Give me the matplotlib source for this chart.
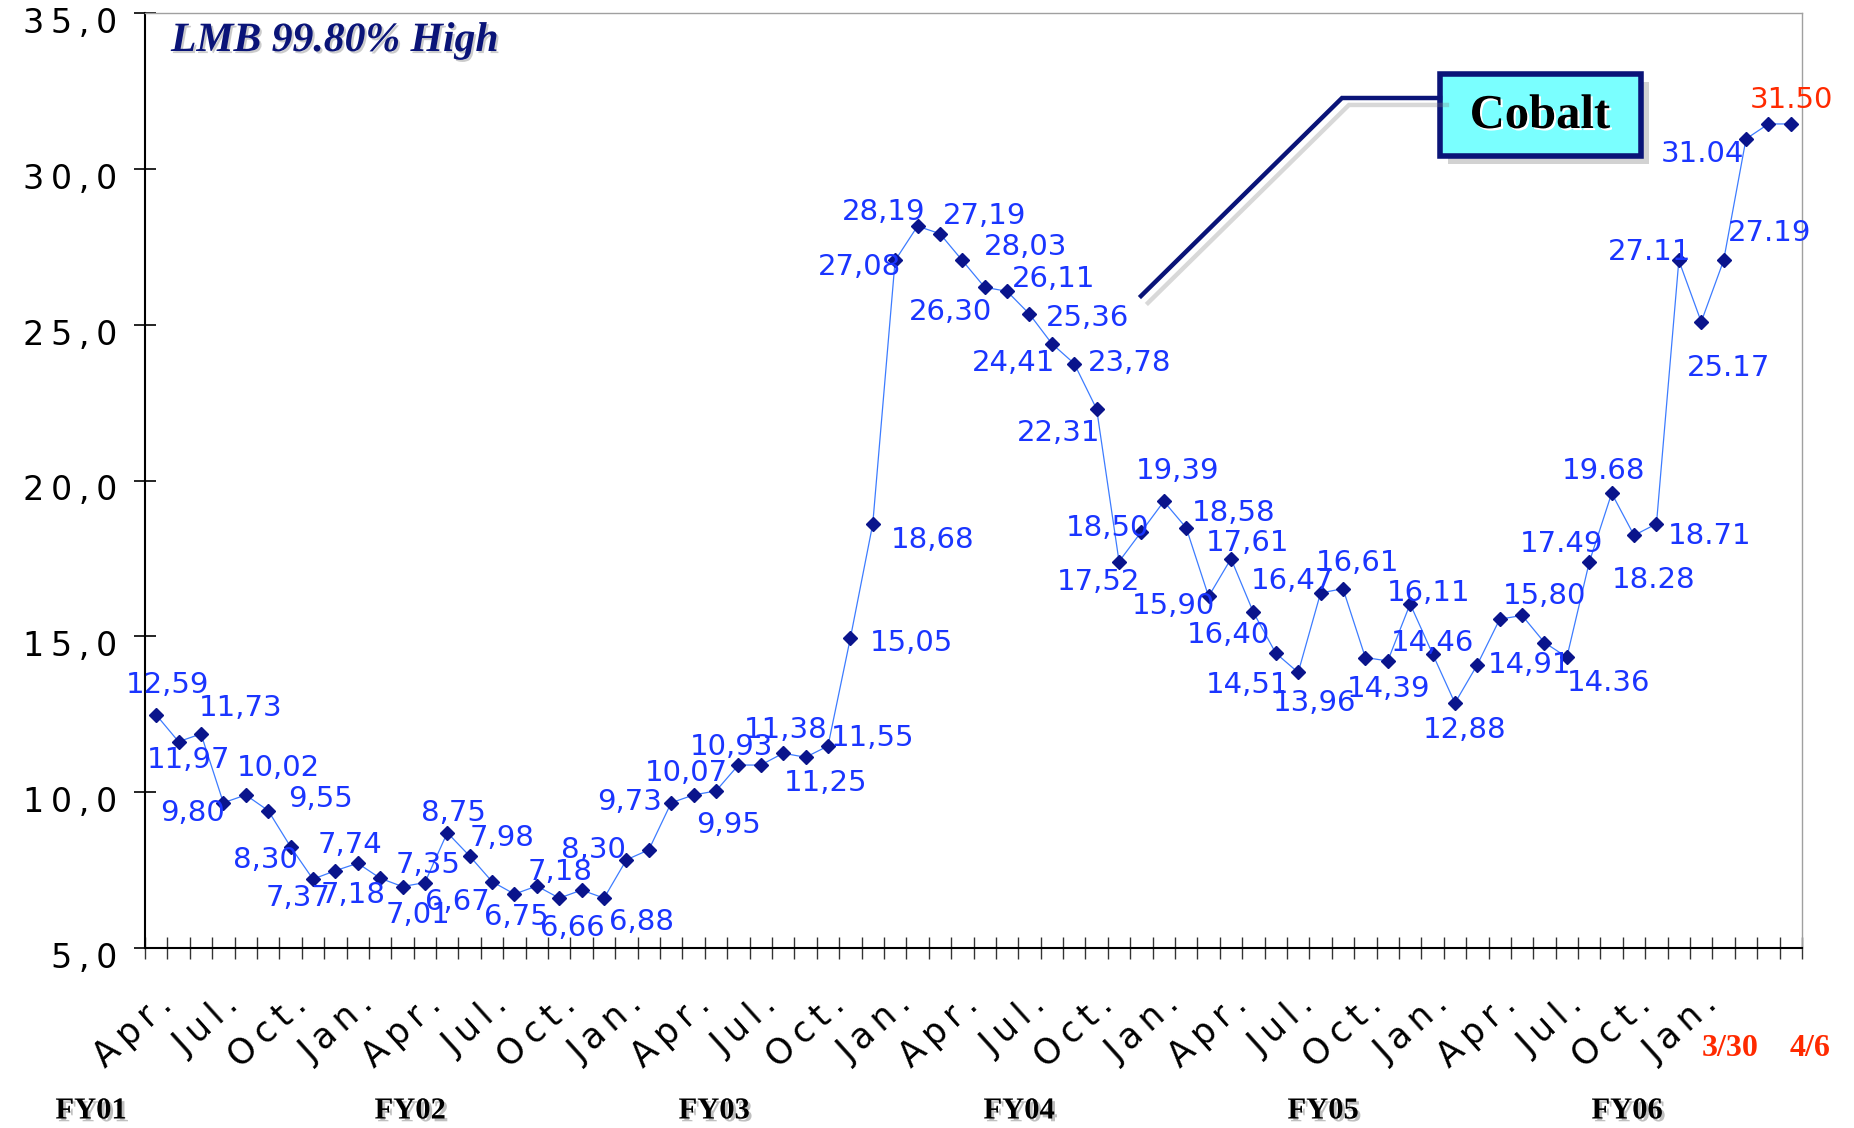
"""
LMB 99.80% High cobalt price history, monthly points with data labels.
"""

import matplotlib
matplotlib.use("Agg")
import matplotlib.pyplot as plt
import matplotlib.patheffects as pe
from matplotlib.patches import Rectangle
from matplotlib.lines import Line2D
from matplotlib.ticker import FixedLocator, FuncFormatter
from matplotlib.transforms import ScaledTranslation
import numpy as np

# ---- data ----
values = [12.48, 11.62, 11.87, 9.66, 9.91, 9.41, 8.25, 7.21, 7.48, 7.72,
          7.24, 6.97, 7.10, 8.70, 7.95, 7.13, 6.73, 6.99, 6.60, 6.86,
          6.60, 7.83, 8.15, 9.66, 9.91, 10.04, 10.87, 10.87, 11.25, 11.12,
          11.48, 14.94, 18.60, 27.06, 28.16, 27.92, 27.06, 26.20, 26.07, 25.34,
          24.39, 23.75, 22.29, 17.40, 18.36, 19.33, 18.48, 16.28, 17.49, 15.77,
          14.46, 13.84, 16.39, 16.53, 14.32, 14.21, 16.04, 14.44, 12.86, 14.09,
          15.55, 15.67, 14.80, 14.33, 17.38, 19.59, 18.24, 18.61, 27.06, 25.09,
          27.06, 30.96, 31.44, 31.44]

month_names = ["Apr.", "Jul.", "Oct.", "Jan."] * 6
fiscal_years = ["FY01", "FY02", "FY03", "FY04", "FY05", "FY06"]
week_labels = ["3/30", "4/6"]

# data labels: point index and the text printed next to it
label_idx = [0, 1, 2, 3, 4, 5, 6, 7, 8, 9, 10, 11, 12, 13, 14,
             16, 17, 18, 19, 22, 23, 24, 25, 26, 28, 29, 30, 31, 32,
             33, 34, 35, 36, 37, 38, 39, 40, 41, 42,
             43, 44, 45, 46, 47, 48, 49, 50, 51, 52, 53, 54,
             56, 57, 58, 61, 62, 63, 64, 65, 66, 67, 68, 69, 70, 71, 73]
label_txt = ["12,59", "11,73", "11,97", "9,80", "10,02", "9,55", "8,30", "7,37",
             "7,18", "7,74", "7,35", "7,01", "6,67", "8,75", "7,98",
             "6,75", "7,18", "6,66", "6,88", "8,30", "9,73", "9,95", "10,07",
             "10,93", "11,38", "11,25", "11,55", "15,05", "18,68",
             "27,08", "28,19", "28,03", "27,19", "26,30", "26,11", "25,36",
             "24,41", "23,78", "22,31",
             "17,52", "18,50", "19,39", "18,58", "16,40", "17,61", "15,90",
             "14,51", "13,96", "16,47", "16,61", "14,39",
             "16,11", "14,46", "12,88", "15,80", "14,91", "14.36", "17.49",
             "19.68", "18.28", "18.71", "27.11", "25.17", "27.19", "31.04", "31.50"]

# label placement (pixels from the point, y measured downwards)
label_dx = [11, 62, -12, -31, 33, 52, -25, -15, 18, -8, 48, 15, 32, 6, 32,
            2, 23, 13, 60, -55, -42, 35, -30, -7, 3, 20, 45, 61, 60,
            -36, -34, 86, 22, -34, 47, 58, -38, 55, -38,
            -21, -34, 14, 47, 20, 17, -80, -28, 16, -28, 15, 23,
            18, 0, 10, 22, -15, 42, -28, -8, 20, 53, -29, 27, 46, -44, 1]
label_dy = [-30, -34, 26, 10, -27, -12, 13, 19, 24, -18, -13, 28, 19, -20, -18,
            23, -14, 30, 32, 0, -1, 30, -18, -18, -23, 26, -8, 5, 16,
            7, -14, 13, -44, 25, -12, 4, 19, -1, 24,
            20, -4, -30, -15, 39, -16, -6, 32, 31, -12, -26, 31,
            -11, -11, 27, -19, 22, 26, -18, -22, 45, 12, -8, 46, -27, 15, -24]

W, H, DPI = 1854, 1128, 100
NAVY = "#0a1478"
LABEL_BLUE = "#1a35ff"
RED = "#ff2a00"
THIN = "\u2009"


def fig_xy(px, py):
    """Pixel position (from top-left) -> figure fraction."""
    return px / W, 1 - py / H


def spaced(s):
    return THIN.join(s)


fig = plt.figure(figsize=(W / DPI, H / DPI), dpi=DPI)
ax = fig.add_axes([145 / W, 1 - 948 / H, (1802 - 145) / W, (948 - 13) / H])

x = np.arange(len(values))
ax.plot(x, values, color="#3d7cff", linewidth=0.9, zorder=2)
ax.plot(x, values, linestyle="none", marker="D", markersize=7,
        markerfacecolor="#0a148c", markeredgecolor="#0a148c", zorder=3)

for i, txt, dx, dy in zip(label_idx, label_txt, label_dx, label_dy):
    color = RED if i == len(values) - 1 else LABEL_BLUE
    ax.annotate(txt, (x[i], values[i]), xytext=(dx, -dy),
                textcoords="offset pixels", ha="center", va="center",
                fontsize=21, color=color, family="DejaVu Sans", zorder=4,
                annotation_clip=False)

ax.set_xlim(-0.5, len(values) - 0.5)
ax.set_ylim(5, 35)

# y axis
ax.yaxis.set_major_locator(FixedLocator(np.arange(5, 36, 5)))
ax.yaxis.set_major_formatter(
    FuncFormatter(lambda v, _: spaced(f"{v:.1f}".replace(".", ","))))
ax.tick_params(axis="y", which="major", direction="inout", length=16,
               width=1.2, color="black", labelsize=24, pad=12)
for lab in ax.get_yticklabels():
    lab.set_transform(lab.get_transform()
                      + ScaledTranslation(0, -7 / DPI, fig.dpi_scale_trans))

# x axis: tick marks between months, labels every quarter
ax.xaxis.set_minor_locator(FixedLocator(np.arange(-0.5, len(values), 1)))
ax.tick_params(axis="x", which="minor", direction="inout", length=16,
               width=1.0, color="#333333")
ax.set_xticks(np.arange(0, 3 * len(month_names), 3))
ax.set_xticklabels([spaced(m) for m in month_names], rotation=42,
                   ha="right", rotation_mode="anchor", fontsize=25)
ax.tick_params(axis="x", which="major", length=0, pad=28)

for side in ("left", "bottom"):
    ax.spines[side].set_color("black")
    ax.spines[side].set_linewidth(1.5)
for side in ("top", "right"):
    ax.spines[side].set_color("#a0a0a0")
    ax.spines[side].set_linewidth(1.0)

# title inside the plot
tx, ty = fig_xy(171, 41)
fig.text(tx, ty, "LMB 99.80% High", ha="left", va="center", fontsize=30,
         family="Liberation Serif", fontweight="bold", style="italic",
         color=NAVY,
         path_effects=[pe.SimplePatchShadow(offset=(1.5, -1.5),
                                            shadow_rgbFace="0.6", alpha=0.5),
                       pe.Normal()])

# fiscal year captions
shadow = [pe.SimplePatchShadow(offset=(2, -2), shadow_rgbFace="0.5", alpha=0.5),
          pe.Normal()]
for fy, px in zip(fiscal_years, [91, 410, 714, 1019, 1323, 1627]):
    fx, fy_ = fig_xy(px, 1111)
    fig.text(fx, fy_, fy, ha="center", va="center", fontsize=22,
             family="Liberation Serif", fontweight="bold", color="black",
             path_effects=shadow)

# weekly dates in red
for wl, px in zip(week_labels, [1730, 1810]):
    wx, wy = fig_xy(px, 1049)
    fig.text(wx, wy, wl, ha="center", va="center", fontsize=23,
             family="Liberation Serif", fontweight="bold", color=RED)

# "Cobalt" callout
pts = [fig_xy(1440, 98), fig_xy(1342, 98), fig_xy(1141, 296)]
callout = Line2D([p[0] for p in pts], [p[1] for p in pts],
                 transform=fig.transFigure, color=NAVY, linewidth=3.2,
                 solid_joinstyle="miter",
                 path_effects=[pe.SimpleLineShadow(offset=(5, -5),
                                                   shadow_color="0.5",
                                                   alpha=0.3),
                               pe.Normal()])
fig.add_artist(callout)

bx0, by0 = fig_xy(1440, 156)
box = Rectangle((bx0, by0), 201 / W, 82 / H, transform=fig.transFigure,
                facecolor="#7affff", edgecolor=NAVY, linewidth=4,
                path_effects=[pe.SimplePatchShadow(offset=(6, -6),
                                                   shadow_rgbFace="0.5",
                                                   alpha=0.35),
                              pe.Normal()])
fig.add_artist(box)
cx, cy = fig_xy(1540, 116)
fig.text(cx, cy, "Cobalt", ha="center", va="center", fontsize=35,
         family="Liberation Serif", fontweight="bold", color="black",
         path_effects=[pe.SimplePatchShadow(offset=(1.5, -1.5),
                                            shadow_rgbFace="white", alpha=1),
                       pe.Normal()])

fig.savefig("out.png", dpi=DPI, facecolor="white")
plt.close(fig)
